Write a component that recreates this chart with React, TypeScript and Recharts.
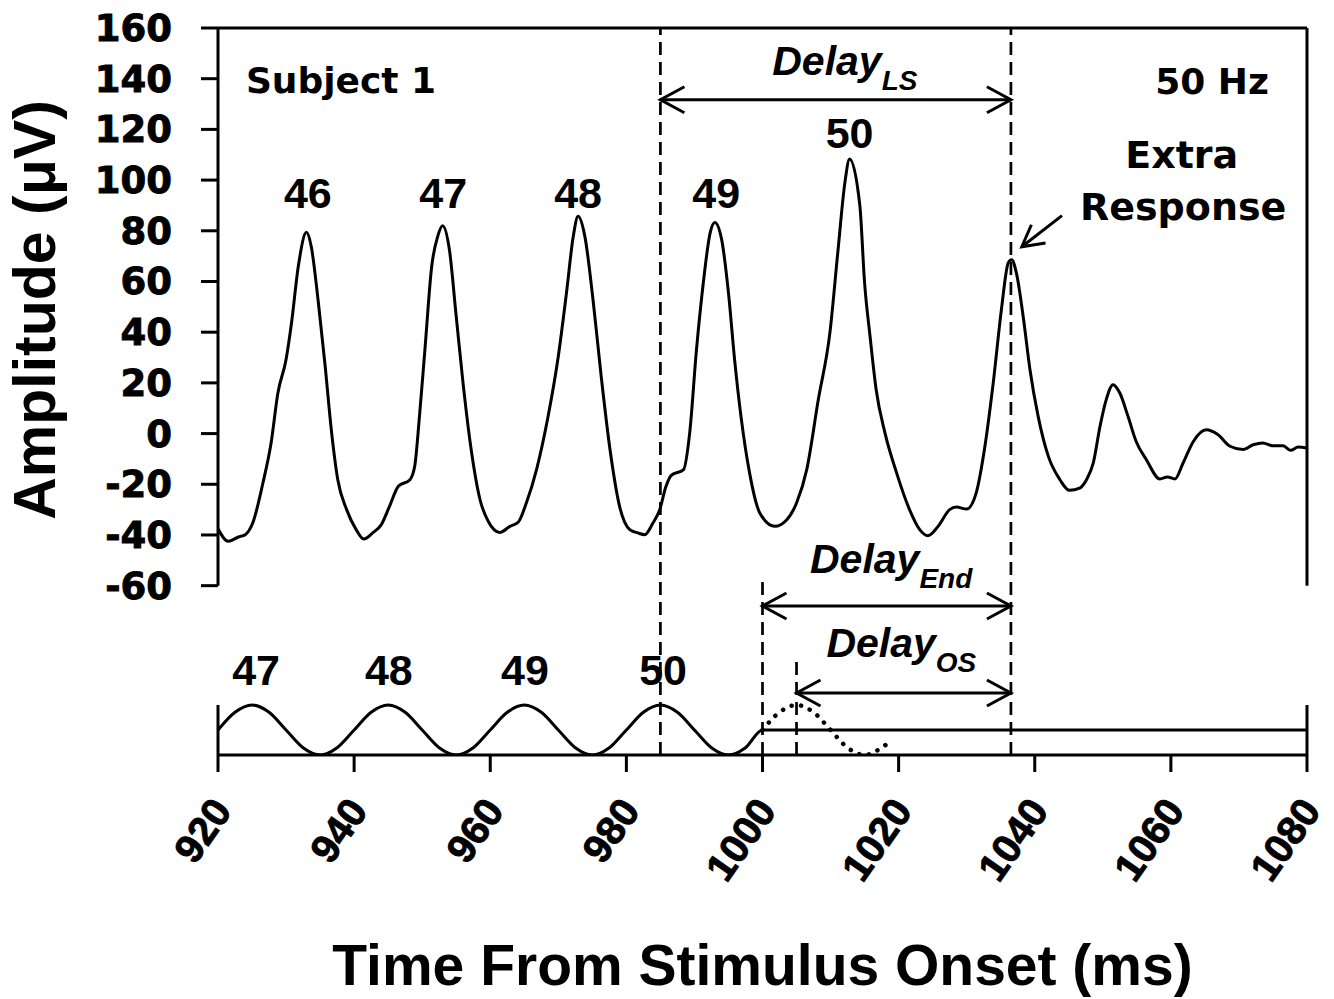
import React from "react"
import { ComposedChart, Line, XAxis, YAxis, ReferenceLine, ReferenceDot } from "recharts"

// evoked response of subject 1 (ms / µV)
const respTime = [
    920.0, 921.5, 923.0, 924.0, 925.1, 926.6, 927.8, 928.8, 930.0, 930.8, 931.8, 933.0, 933.7, 934.7, 935.7, 936.7,
    937.6, 938.9, 940.3, 941.4, 942.8, 944.0, 945.2, 946.5, 948.2, 948.9, 949.6, 950.4, 951.4, 952.3, 953.0, 954.0,
    955.0, 956.0, 957.2, 958.5, 959.7, 961.4, 962.9, 964.1, 965.3, 966.8, 968.5, 970.0, 971.2, 972.2, 972.9, 973.9,
    975.1, 976.3, 977.6, 979.0, 980.5, 981.7, 982.7, 983.9, 984.9, 985.8, 986.6, 988.4, 989.3, 990.3, 991.3, 992.3,
    993.0, 994.0, 995.0, 995.9, 996.9, 998.1, 999.6, 1001.8, 1003.5, 1005.0, 1006.5, 1008.2, 1009.9, 1011.1, 1012.1, 1012.8,
    1014.3, 1015.0, 1015.8, 1016.7, 1018.0, 1019.7, 1021.6, 1023.1, 1024.3, 1025.8, 1027.5, 1028.5, 1030.0, 1031.4, 1032.6, 1033.9,
    1035.1, 1036.1, 1036.6, 1037.3, 1038.3, 1039.3, 1040.5, 1042.0, 1043.7, 1045.1, 1046.6, 1047.6, 1048.6, 1049.6, 1050.5, 1051.5,
    1052.5, 1053.7, 1054.9, 1056.4, 1058.4, 1059.5, 1060.6, 1061.8, 1063.3, 1065.2, 1066.9, 1068.7, 1070.6, 1072.1, 1073.5, 1075.0,
    1076.5, 1077.6, 1078.7, 1080.0,
]
const respAmp = [
    -37.5, -42.5, -40.8, -39.9, -35.3, -19.5, -3.7, 16.0, 29.2, 43.6, 66.0, 79.4, 73.8, 52.8, 27.8, 0.2,
    -18.2, -30.0, -37.9, -41.6, -39.0, -35.9, -28.7, -20.8, -18.2, -12.9, 6.8, 33.1, 66.0, 78.0, 82.0, 72.5,
    46.2, 20.0, -6.4, -26.1, -34.6, -39.0, -36.6, -35.0, -27.4, -14.2, 6.8, 30.5, 55.5, 77.8, 85.7, 77.8,
    52.8, 22.6, -6.4, -28.7, -37.9, -39.2, -39.9, -35.3, -30.0, -21.0, -16.5, -14.2, 0.2, 33.1, 59.4, 79.1,
    83.3, 76.5, 55.5, 29.2, 5.5, -15.5, -31.3, -36.6, -34.2, -27.4, -14.2, 13.4, 39.7, 72.5, 98.9, 108.3,
    90.0, 59.4, 38.4, 17.3, 0.2, -15.5, -30.0, -37.9, -40.3, -36.6, -30.0, -29.0, -29.8, -23.4, -6.4, 20.0,
    48.9, 67.3, 68.6, 63.4, 46.2, 25.2, 6.8, -9.0, -18.2, -22.4, -21.5, -18.2, -11.6, 3.0, 13.4, 19.3,
    16.0, 6.8, -3.1, -10.3, -17.9, -17.1, -17.9, -11.6, -3.1, 1.5, -0.4, -5.0, -6.3, -4.4, -3.7, -4.8,
    -4.8, -6.6, -5.3, -5.7,
]

// 50 Hz stimulus (relative level, -1 trough .. 1 crest), steady after offset at 1000 ms
const stimTime = [
    920, 922.5, 925, 927.5, 930, 932.5, 935, 937.5, 940, 942.5, 945, 947.5, 950, 952.5, 955, 957.5,
    960, 962.5, 965, 967.5, 970, 972.5, 975, 977.5, 980, 982.5, 985, 987.5, 990, 992.5, 995, 997.5,
    1000, 1080,
]
const stimLevel = [
    0, 0.71, 1, 0.71, 0, -0.71, -1, -0.71, 0, 0.71, 1, 0.71, 0, -0.71, -1, -0.71,
    0, 0.71, 1, 0.71, 0, -0.71, -1, -0.71, 0, 0.71, 1, 0.71, 0, -0.71, -1, -0.71,
    0, 0,
]
// the cycle that would have followed (dotted)
const ghostTime = [1000, 1002.5, 1005, 1007.5, 1010, 1012.5, 1015, 1017.5, 1019]
const ghostLevel = [0, 0.71, 1, 0.71, 0, -0.71, -1, -0.71, -0.4]

const xTicks = [920, 940, 960, 980, 1000, 1020, 1040, 1060, 1080]
const ampTicks = [-60, -40, -20, 0, 20, 40, 60, 80, 100, 120, 140, 160]

// response numbers above the peaks, stimulus numbers above the crests
const peakTags = ["46", "47", "48", "49", "50"]
const peakTagTime = [933.2, 953.1, 972.9, 993.2, 1012.8]
const peakTagAmp = [89.1, 89.1, 89.1, 89.1, 112.8]
const stimTags = ["47", "48", "49", "50"]
const stimTagTime = [925.6, 945.1, 965.1, 985.4]

const lastStimCrest = 985
const stimOffset = 1000
const ghostCrest = 1005
const extraPeak = 1036.5

const ARIAL = "'Liberation Sans', Arial, sans-serif"
const WIDE = "'DejaVu Sans', 'Liberation Sans', sans-serif"
const DASH = "13 7"

const respData = respTime.map((t, i) => ({ t, v: respAmp[i] }))
const stimData = stimTime.map((t, i) => ({ t, s: stimLevel[i] }))
const ghostData = ghostTime.map((t, i) => ({ t, s: ghostLevel[i] }))

const AmpTick = (p: any) => (
    <text x={p.x} y={p.y} dy={13} textAnchor="end" fontFamily={WIDE} fontWeight="bold" fontSize={37}
        fill="#000" stroke="#000" strokeWidth={0.9}>
        {p.payload.value}
    </text>
)

const TimeTick = (p: any) => {
    const x = p.x + 15
    const y = p.y
    return (
        <text x={x} y={y} textAnchor="end" transform={`rotate(-55 ${x} ${y})`}
            fontFamily={ARIAL} fontWeight="bold" fontSize={40} fill="#000" stroke="#000" strokeWidth={0.9}>
            {p.payload.value}
        </text>
    )
}

const note = (text: string, size: number, anchor = "middle", family = ARIAL) => (p: any) => (
    <text x={p.cx} y={p.cy} textAnchor={anchor} fontFamily={family} fontWeight="bold" fontSize={size} fill="#000">
        {text}
    </text>
)

const delayNote = (sub: string) => (p: any) => (
    <text x={p.cx} y={p.cy} textAnchor="middle" fontFamily={ARIAL} fontWeight="bold" fontStyle="italic" fontSize={41} fill="#000">
        Delay<tspan fontSize={28} dy={15}>{sub}</tspan>
    </text>
)

const HEAD_DX = 24
const HEAD_DY = 13

const twoWayArrow = (p: any) => {
    const { x1, y1, x2, y2 } = p
    return (
        <g stroke="#000" strokeWidth={3} fill="none">
            <line x1={x1} y1={y1} x2={x2} y2={y2} />
            <polyline points={`${x1 + HEAD_DX},${y1 - HEAD_DY} ${x1},${y1} ${x1 + HEAD_DX},${y1 + HEAD_DY}`} />
            <polyline points={`${x2 - HEAD_DX},${y2 - HEAD_DY} ${x2},${y2} ${x2 - HEAD_DX},${y2 + HEAD_DY}`} />
        </g>
    )
}

const pointer = (p: any) => {
    const { x1, y1, x2, y2 } = p
    const a = Math.atan2(y2 - y1, x2 - x1)
    const len = 24
    const spread = 0.5
    const ax = x2 - len * Math.cos(a - spread), ay = y2 - len * Math.sin(a - spread)
    const bx = x2 - len * Math.cos(a + spread), by = y2 - len * Math.sin(a + spread)
    return (
        <g stroke="#000" strokeWidth={3} fill="none">
            <line x1={x1} y1={y1} x2={x2} y2={y2} />
            <polyline points={`${ax},${ay} ${x2},${y2} ${bx},${by}`} />
        </g>
    )
}

export default function App() {
    return (
        <div style={{ position: "absolute", left: 0, top: 0, background: "#fff" }}>
            <ComposedChart width={1334} height={999} margin={{ top: 28, right: 27, bottom: 184, left: 118 }}>
                <XAxis
                    dataKey="t"
                    type="number"
                    domain={[920, 1080]}
                    ticks={xTicks}
                    interval={0}
                    allowDataOverflow
                    height={60}
                    tickSize={17}
                    tickMargin={39}
                    axisLine={{ stroke: "#000", strokeWidth: 3 }}
                    tickLine={{ stroke: "#000", strokeWidth: 3 }}
                    tick={<TimeTick />}
                    label={(lp: any) => (
                        <text x={lp.viewBox.x + lp.viewBox.width / 2} y={lp.viewBox.y + 230} textAnchor="middle"
                            fontFamily={ARIAL} fontWeight="bold" fontSize={57} fill="#000">
                            Time From Stimulus Onset (ms)
                        </text>
                    )}
                />
                <YAxis
                    yAxisId="amp"
                    type="number"
                    domain={[-126.8, 160]}
                    ticks={ampTicks}
                    interval={0}
                    allowDataOverflow
                    width={100}
                    tickSize={17}
                    tickMargin={29}
                    axisLine={false}
                    tickLine={{ stroke: "#000", strokeWidth: 3 }}
                    tick={<AmpTick />}
                    label={(lp: any) => {
                        const x = lp.viewBox.x - 63
                        const y = lp.viewBox.y + 282
                        return (
                            <text x={x} y={y} textAnchor="middle" transform={`rotate(-90 ${x} ${y})`}
                                fontFamily={ARIAL} fontWeight="bold" fontSize={59} fill="#000">
                                Amplitude (μV)
                            </text>
                        )
                    }}
                />
                <YAxis yAxisId="stim" orientation="right" type="number" domain={[-1, 28.08]} allowDataOverflow hide width={0} />

                {/* frame of the response panel */}
                <ReferenceLine yAxisId="amp" y={160} stroke="#000" strokeWidth={3} />
                <ReferenceLine yAxisId="amp" segment={[{ x: 920, y: -60 }, { x: 920, y: 160 }]} stroke="#000" strokeWidth={3} />
                <ReferenceLine yAxisId="amp" segment={[{ x: 1080, y: -60 }, { x: 1080, y: 160 }]} stroke="#000" strokeWidth={3} />
                {/* sides of the stimulus strip */}
                <ReferenceLine yAxisId="stim" segment={[{ x: 920, y: -1 }, { x: 920, y: 1 }]} stroke="#000" strokeWidth={3} />
                <ReferenceLine yAxisId="stim" segment={[{ x: 1080, y: -1 }, { x: 1080, y: 1 }]} stroke="#000" strokeWidth={3} />

                {/* dashed markers */}
                <ReferenceLine yAxisId="amp" x={lastStimCrest} stroke="#000" strokeWidth={2.7} strokeDasharray={DASH} />
                <ReferenceLine yAxisId="amp" x={extraPeak} stroke="#000" strokeWidth={2.7} strokeDasharray={DASH} />
                <ReferenceLine yAxisId="stim" segment={[{ x: stimOffset, y: -1 }, { x: stimOffset, y: 6.2 }]} stroke="#000" strokeWidth={2.7} strokeDasharray={DASH} />
                <ReferenceLine yAxisId="stim" segment={[{ x: ghostCrest, y: -1 }, { x: ghostCrest, y: 2.88 }]} stroke="#000" strokeWidth={2.7} strokeDasharray={DASH} />

                {/* delay arrows */}
                <ReferenceLine yAxisId="amp" segment={[{ x: lastStimCrest, y: 131.7 }, { x: extraPeak, y: 131.7 }]} shape={twoWayArrow} />
                <ReferenceLine yAxisId="stim" segment={[{ x: stimOffset, y: 4.96 }, { x: extraPeak, y: 4.96 }]} shape={twoWayArrow} />
                <ReferenceLine yAxisId="stim" segment={[{ x: ghostCrest, y: 1.48 }, { x: extraPeak, y: 1.48 }]} shape={twoWayArrow} />
                <ReferenceLine yAxisId="amp" segment={[{ x: 1044.0, y: 86.0 }, { x: 1038.1, y: 73.7 }]} shape={pointer} />

                <Line data={respData} dataKey="v" yAxisId="amp" type="monotone" stroke="#000" strokeWidth={3}
                    dot={false} activeDot={false} isAnimationActive={false} />
                <Line data={stimData} dataKey="s" yAxisId="stim" type="monotone" stroke="#000" strokeWidth={3}
                    dot={false} activeDot={false} isAnimationActive={false} />
                <Line data={ghostData} dataKey="s" yAxisId="stim" type="monotone" stroke="#000" strokeWidth={4.5}
                    strokeDasharray="0.1 9.5" strokeLinecap="round" dot={false} activeDot={false} isAnimationActive={false} />

                {peakTags.map((tag, i) => (
                    <ReferenceDot key={"p" + tag} yAxisId="amp" x={peakTagTime[i]} y={peakTagAmp[i]} r={0} shape={note(tag, 43)} />
                ))}
                {stimTags.map((tag, i) => (
                    <ReferenceDot key={"s" + tag} yAxisId="stim" x={stimTagTime[i]} y={1.8} r={0} shape={note(tag, 43)} />
                ))}

                <ReferenceDot yAxisId="amp" x={924.1} y={134.4} r={0} shape={note("Subject 1", 36, "start", WIDE)} />
                <ReferenceDot yAxisId="amp" x={1074.4} y={134.0} r={0} shape={note("50 Hz", 36, "end", WIDE)} />
                <ReferenceDot yAxisId="amp" x={1061.6} y={104.9} r={0} shape={note("Extra", 38, "middle", WIDE)} />
                <ReferenceDot yAxisId="amp" x={1061.8} y={84.4} r={0} shape={note("Response", 38, "middle", WIDE)} />

                <ReferenceDot yAxisId="amp" x={1012.1} y={141.6} r={0} shape={delayNote("LS")} />
                <ReferenceDot yAxisId="stim" x={1018.9} y={6.28} r={0} shape={delayNote("End")} />
                <ReferenceDot yAxisId="stim" x={1020.4} y={2.92} r={0} shape={delayNote("OS")} />
            </ComposedChart>
        </div>
    )
}
